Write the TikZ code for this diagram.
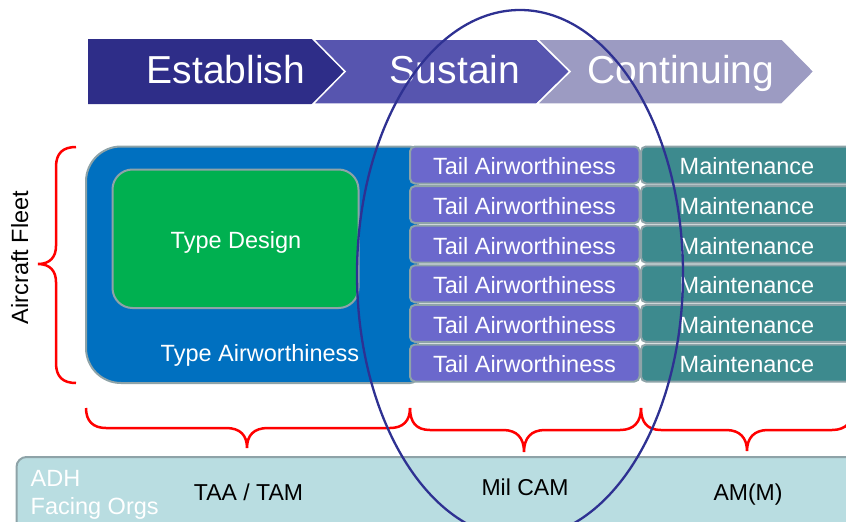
\documentclass[tikz,border=0pt]{standalone}
\usepackage{fontspec}
\setmainfont{Liberation Sans}
\definecolor{estab}{HTML}{2E2D88}
\definecolor{sust}{HTML}{5755AF}
\definecolor{cont}{HTML}{9C9BC2}
\definecolor{typeblue}{HTML}{0070C0}
\definecolor{typegreen}{HTML}{00B050}
\definecolor{tailc}{HTML}{6B68CC}
\definecolor{maintc}{HTML}{3D8A8E}
\definecolor{adhc}{HTML}{B9DDE1}
\definecolor{edgec}{HTML}{8EA3A8}
\definecolor{ringc}{HTML}{2E3192}
\tikzset{
  chev/.style={draw=white, line width=1.5pt},
  chevtext/.style={text=white, anchor=base, inner sep=0pt, font=\fontsize{39}{45}\selectfont},
  boxtext/.style={text=white, anchor=base, inner sep=0pt, font=\fontsize{23.5}{28}\selectfont},
  blacktext/.style={text=black, anchor=base, inner sep=0pt, font=\fontsize{23}{28}\selectfont},
  tailbox/.style={fill=tailc, draw=edgec, line width=2pt, rounded corners=5pt},
  maintbox/.style={fill=maintc, draw=edgec, line width=2pt, rounded corners=5pt},
  bracel/.style={draw=red, line width=2.5pt},
}
\begin{document}
\begin{tikzpicture}[x=1pt, y=-1pt]
\useasboundingbox (0,0) rectangle (846,522);
\clip (0,0) rectangle (846,522);
% chevrons
\fill[estab] (88,39) -- (313,39) -- (345,71.5) -- (313,104) -- (88,104) -- cycle;
\path[chev, fill=sust] (313,39) -- (537,39) -- (570,71.5) -- (537,104) -- (313,104) -- (345,71.5) -- cycle;
\path[chev, fill=cont] (537,39) -- (782,39) -- (814,71.5) -- (782,104) -- (537,104) -- (570,71.5) -- cycle;
\node[chevtext] (establish) at (226,83) {Establish};
\node[chevtext] (sustain) at (455,83) {Sustain};
\node[chevtext] (continuing) at (681,83) {Continuing};
% type airworthiness box
\path[fill=typeblue, draw=edgec, line width=2pt] (86,265) [rounded corners=35pt] -- (86,146.5) -- (200,146.5) [rounded corners=8pt] -- (418,146.5) -- (418,383) -- (200,383) [rounded corners=35pt] -- (86,383) -- cycle;
\draw[fill=typegreen, draw=edgec, line width=2pt, rounded corners=20pt] (112.5,169.5) rectangle (358.5,308);
\node[boxtext] (typedesign) at (236,248.4) {Type Design};
\node[boxtext] (typeair) at (260,361.5) {Type Airworthiness};
% rows
\foreach \i in {0,...,5} {
  \pgfmathsetmacro{\top}{146.5+39.6*\i}
  \pgfmathsetmacro{\bot}{\top+37}
  \pgfmathsetmacro{\base}{\top+18.5+9.8}
  \draw[tailbox] (410,\top) rectangle (639.5,\bot);
  \draw[maintbox] (641,\top) rectangle (880,\bot);
  \node[boxtext] (tail\i) at (524.5,\base) {Tail Airworthiness};
  \node[boxtext] (maint\i) at (747,\base) {Maintenance};
}
\foreach \i in {1,...,5} {
  \pgfmathsetmacro{\dy}{146.5+39.6*\i-1}
  \fill[white] (640,\dy) circle (1.6);
}
% left brace
\draw[bracel] (76,147) .. controls (63,147) and (56,153) .. (56,167) -- (56,246) .. controls (56,257) and (50,264) .. (38,264) .. controls (50,264) and (56,271) .. (56,282) -- (56,363) .. controls (56,377) and (63,383) .. (76,383);
\node[blacktext, rotate=90, font=\fontsize{23.5}{28}\selectfont] (fleet) at (28,257.5) {Aircraft Fleet};
% bottom braces
\draw[bracel] (86,408) .. controls (86,421) and (93,428) .. (106,428) -- (226,428) .. controls (240,428) and (247,435) .. (247,448) .. controls (247,435) and (254,428) .. (268,428) -- (390,428) .. controls (403,428) and (410,421) .. (410,408);
\draw[bracel] (410,408) .. controls (410,422) and (416,430) .. (430,430) -- (503,430) .. controls (517,430) and (524,438) .. (524,452) .. controls (524,438) and (531,430) .. (545,430) -- (620,430) .. controls (634,430) and (641,422) .. (641,408);
\draw[bracel] (641,408) .. controls (641,422) and (647,430) .. (661,430) -- (726,430) .. controls (740,430) and (747,438) .. (747,451) .. controls (747,438) and (754,430) .. (768,430) -- (832,430) .. controls (846,430) and (853,422) .. (853,408);
% bottom bar
\draw[fill=adhc, draw=edgec, line width=2pt, rounded corners=10pt] (16.5,457) rectangle (880,560);
\node[boxtext, anchor=base west, font=\fontsize{23.5}{28}\selectfont] (adh) at (30.5,486) {ADH};
\node[boxtext, anchor=base west, font=\fontsize{23.5}{28}\selectfont] (facing) at (30.5,514) {Facing Orgs};
\node[blacktext] (taa) at (248.5,500) {TAA / TAM};
\node[blacktext] (milcam) at (525,495.3) {Mil CAM};
\node[blacktext] (amm) at (748,500) {AM(M)};
% ellipse
\draw[ringc, line width=2.3pt] (520,274) ellipse [x radius=163, y radius=264];
\end{tikzpicture}
\end{document}
